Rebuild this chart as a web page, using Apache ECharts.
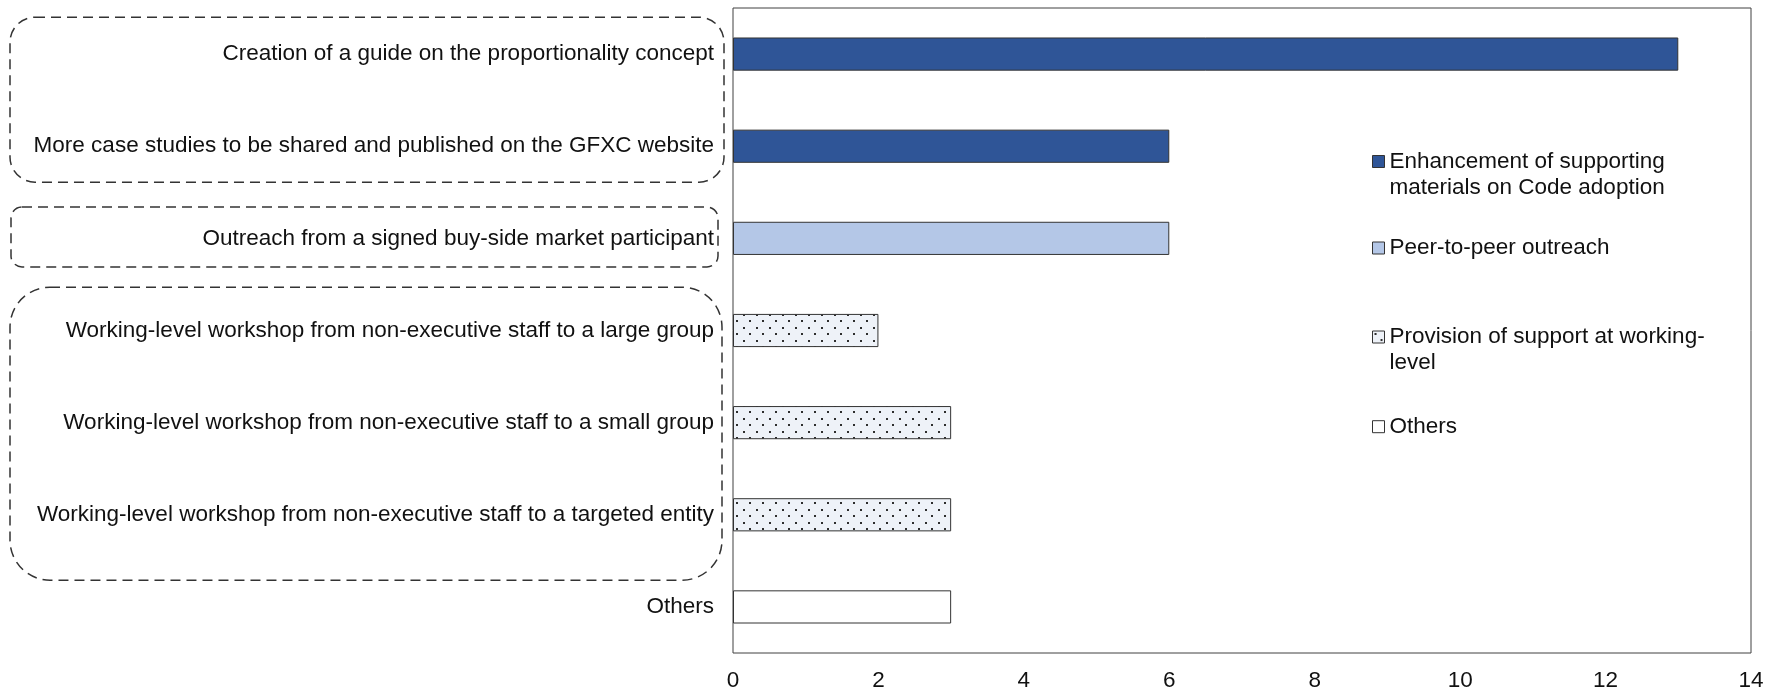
<!DOCTYPE html>
<html><head><meta charset="utf-8">
<script src="https://cdn.jsdelivr.net/npm/echarts@6/dist/echarts.min.js"></script>
<style>html,body{margin:0;padding:0;background:#fff}#c{width:1783px;height:690px}</style>
</head><body><div id="c"></div>
<script>
// ---- data ----
const categories = [
  'Creation of a guide on the proportionality concept',
  'More case studies to be shared and published on the GFXC website',
  'Outreach from a signed buy-side market participant',
  'Working-level workshop from non-executive staff to a large group',
  'Working-level workshop from non-executive staff to a small group',
  'Working-level workshop from non-executive staff to a targeted entity',
  'Others'
];
const seriesNames = [
  'Enhancement of supporting materials on Code adoption',
  'Peer-to-peer outreach',
  'Provision of support at working-level',
  'Others'
];
const legendLines = [
  ['Enhancement of supporting', 'materials on Code adoption'],
  ['Peer-to-peer outreach'],
  ['Provision of support at working-', 'level'],
  ['Others']
];
const enhancementValues = [13, 6, null, null, null, null, null];
const peerValues        = [null, null, 6, null, null, null, null];
const workingValues     = [null, null, null, 2, 3, 3, null];
const othersValues      = [null, null, null, null, null, null, 3];
const xMin = 0, xMax = 14, xStep = 2;
// category index ranges enclosed by dashed groups
const groupRanges = [[0, 1], [2, 2], [3, 5]];

// ---- styling ----
const FONT = 'Liberation Sans, Arial, sans-serif';
const FS = 22.5;
const LH = 26;
function dotPattern() {
  const c = document.createElement('canvas');
  c.width = 13; c.height = 13;
  const g = c.getContext('2d');
  g.fillStyle = '#EEF2F8'; g.fillRect(0, 0, 13, 13);
  g.fillStyle = '#2e2e2e';
  g.fillRect(2, 2, 2, 2);
  g.fillRect(8, 8, 2, 2);
  return c;
}
const fills = ['#2F5597', '#B4C7E7', {image: dotPattern(), repeat: 'repeat'}, '#FFFFFF'];
const values = [enhancementValues, peerValues, workingValues, othersValues];

const chart = echarts.init(document.getElementById('c'), null, {renderer: 'canvas'});

// icon tops of each legend entry; multi-line entries get a leading blank line
// so that the first text line is centred on the icon
const iconTops = [155.5, 242, 331, 420.7];
const legends = seriesNames.map((n, i) => {
  const lines = legendLines[i];
  const multi = lines.length > 1;
  const text = multi ? '\n' + lines.join('\n') : lines[0];
  const nLines = multi ? lines.length + 1 : 1;
  const rectTop = Math.min(0, 6 - nLines * LH / 2);
  return {
    data: [n],
    left: 1372,
    top: iconTops[i] + rectTop,
    orient: 'vertical',
    padding: 0,
    icon: 'rect',
    itemWidth: 12,
    itemHeight: 12,
    itemGap: 0,
    selectedMode: false,
    formatter: () => text,
    itemStyle: {borderColor: '#333', borderWidth: 1},
    textStyle: {fontFamily: FONT, fontSize: FS, color: '#111', lineHeight: LH}
  };
});

chart.setOption({
  animation: false,
  backgroundColor: '#fff',
  grid: {left: 733, right: 32, top: 8, bottom: 37, show: true, borderColor: '#404040', borderWidth: 1,
         containLabel: false, outerBoundsMode: 'none'},
  legend: legends,
  xAxis: {
    type: 'value', min: xMin, max: xMax, interval: xStep,
    axisLine: {show: false}, axisTick: {show: false}, splitLine: {show: false},
    axisLabel: {fontFamily: FONT, fontSize: FS, color: '#111', margin: 16}
  },
  yAxis: {
    type: 'category', data: categories, inverse: true,
    axisLine: {show: false}, axisTick: {show: false}, splitLine: {show: false},
    axisLabel: {fontFamily: FONT, fontSize: FS, color: '#111', margin: 19}
  },
  series: seriesNames.map((n, i) => ({
    name: n, type: 'bar', stack: 'all', barWidth: '36%',
    data: values[i],
    itemStyle: {color: fills[i], borderColor: '#333', borderWidth: 1}
  }))
});

// dashed grouping boxes around category labels
const yc = i => chart.convertToPixel({yAxisIndex: 0}, categories[i]);
const band = yc(1) - yc(0);
const boxStyle = [
  {x0: 10, x1: 724, padT: 0.40, padB: 0.39, r: 25},
  {x0: 11, x1: 718, padT: 0.34, padB: 0.31, r: 11},
  {x0: 10, x1: 722, padT: 0.47, padB: 0.71, r: 40}
];
chart.setOption({
  graphic: groupRanges.map((g, i) => {
    const s = boxStyle[i];
    const top = yc(g[0]) - s.padT * band;
    const bot = yc(g[1]) + s.padB * band;
    return {
      type: 'rect', silent: true,
      shape: {x: s.x0, y: top, width: s.x1 - s.x0, height: bot - top, r: s.r},
      style: {fill: 'none', stroke: '#333', lineWidth: 1.5, lineDash: [10, 6]}
    };
  })
});
</script>
</body></html>
